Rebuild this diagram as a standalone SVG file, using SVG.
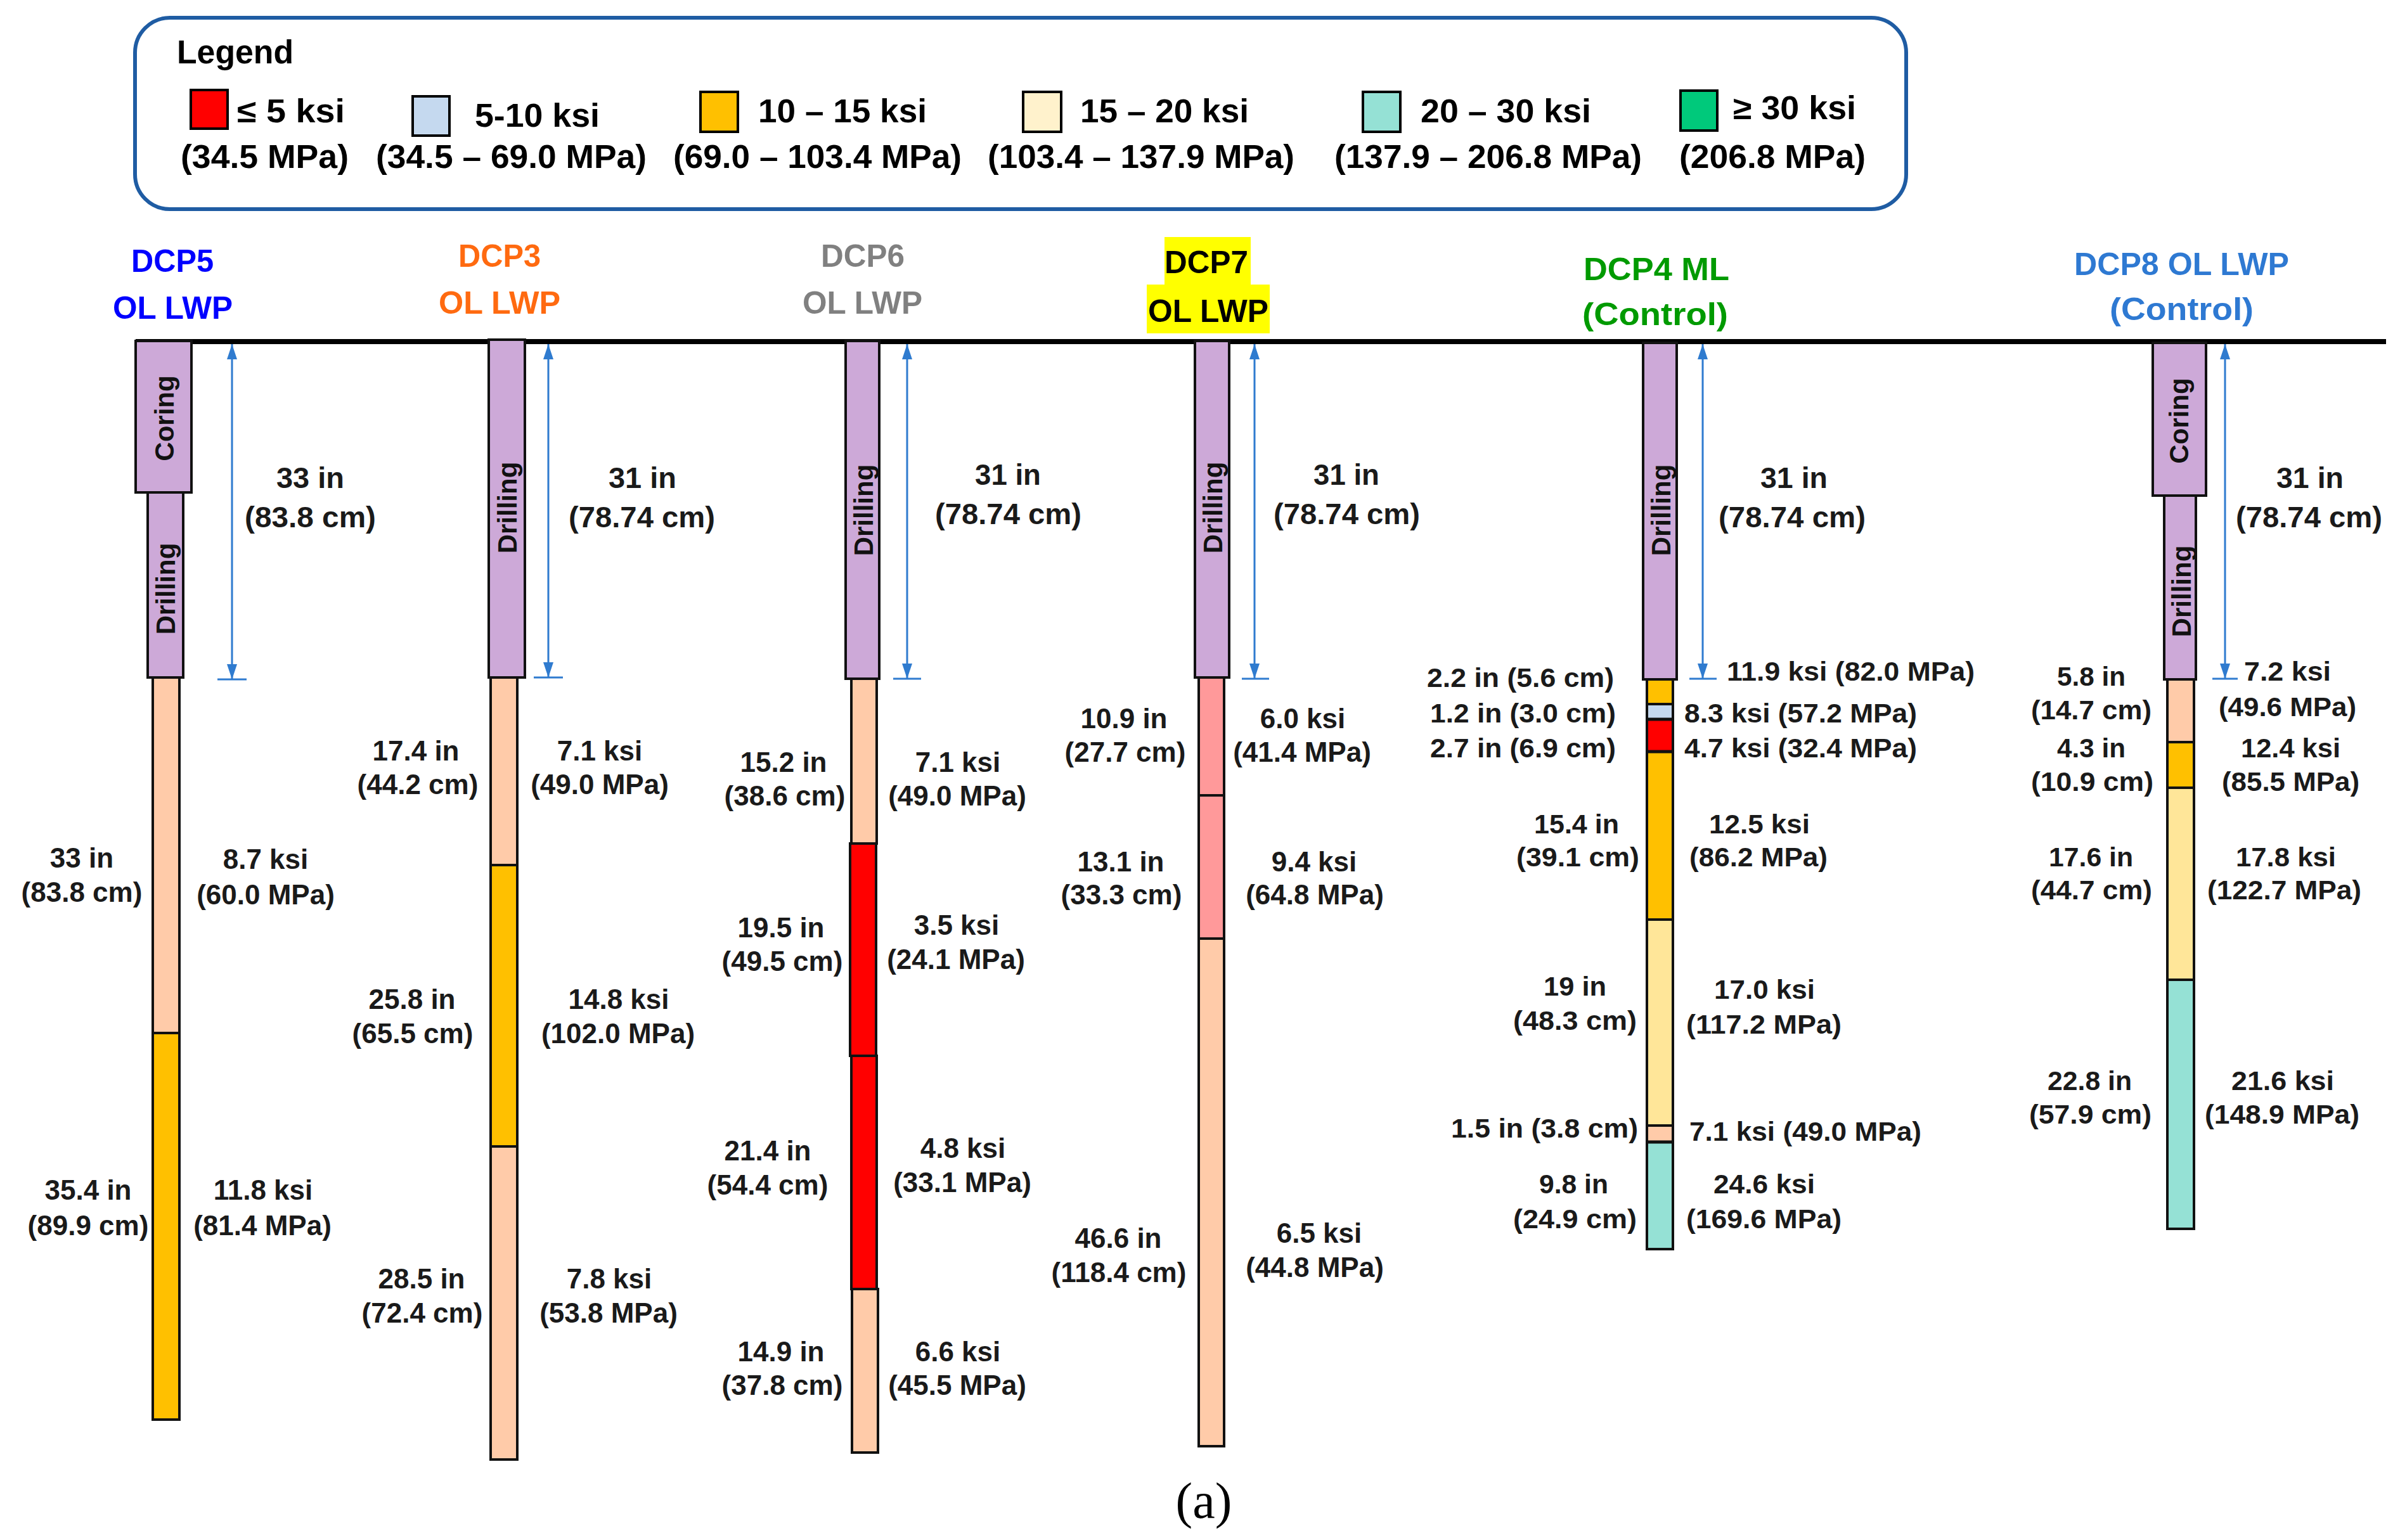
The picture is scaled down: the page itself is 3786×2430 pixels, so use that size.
<svg xmlns="http://www.w3.org/2000/svg" width="3786" height="2430" viewBox="0 0 3786 2430">
<style>
text{font-family:"Liberation Sans",Arial,sans-serif;font-weight:bold;fill:#1a1a1a}
.leg{font-size:51px;fill:#000}
.ttl{font-size:50px}
.dim{font-size:47px}
.lbl{font-size:42px}
.seg{font-size:44px;text-anchor:middle}
.rot{font-size:42px;text-anchor:middle;fill:#111}
.box{stroke:#000;stroke-width:4}
.col{stroke:#111;stroke-width:4}
.pu{fill:#CDA9D8}.pe{fill:#FFCBA9}.or{fill:#FFC000}.rd{fill:#FF0000}.pk{fill:#FF999A}
.ly{fill:#FFE699}.lb{fill:#C5D9EF}.tl{fill:#95E1D5}
.dl{stroke:#2F7BCF;stroke-width:3;fill:none}
.div{stroke:#111;stroke-width:5}
</style>
<defs>
<marker id="ah" viewBox="0 0 24 16" refX="24" refY="8" markerWidth="24" markerHeight="16" markerUnits="userSpaceOnUse" orient="auto-start-reverse">
<path d="M0,0 L24,8 L0,16 Z" fill="#2F7BCF"/>
</marker>
</defs>
<rect width="3786" height="2430" fill="#fff"/>

<g id="legend">
<rect x="213" y="28" width="2794" height="302" rx="55" ry="55" fill="#fff" stroke="#1F5CA3" stroke-width="6"/>
<text class="leg" x="279" y="100" font-size="54" textLength="184" lengthAdjust="spacingAndGlyphs">Legend</text>
<rect class="box" x="301" y="142" width="58" height="61" fill="#FF0000"/>
<text class="leg" x="374" y="193" textLength="170" lengthAdjust="spacingAndGlyphs">≤ 5 ksi</text>
<text class="leg" x="285" y="265" textLength="265" lengthAdjust="spacingAndGlyphs">(34.5 MPa)</text>
<rect class="box" x="651" y="152" width="58" height="62" fill="#C5D9EF"/>
<text class="leg" x="749" y="200" textLength="197" lengthAdjust="spacingAndGlyphs">5-10 ksi</text>
<text class="leg" x="593" y="265" textLength="427" lengthAdjust="spacingAndGlyphs">(34.5 – 69.0 MPa)</text>
<rect class="box" x="1105" y="145" width="59" height="63" fill="#FFC000"/>
<text class="leg" x="1196" y="193" textLength="266" lengthAdjust="spacingAndGlyphs">10 – 15 ksi</text>
<text class="leg" x="1062" y="265" textLength="455" lengthAdjust="spacingAndGlyphs">(69.0 – 103.4 MPa)</text>
<rect class="box" x="1614" y="145" width="60" height="63" fill="#FFF2CC"/>
<text class="leg" x="1704" y="193" textLength="266" lengthAdjust="spacingAndGlyphs">15 – 20 ksi</text>
<text class="leg" x="1558" y="265" textLength="484" lengthAdjust="spacingAndGlyphs">(103.4 – 137.9 MPa)</text>
<rect class="box" x="2150" y="145" width="59" height="63" fill="#95E1D5"/>
<text class="leg" x="2241" y="193" textLength="269" lengthAdjust="spacingAndGlyphs">20 – 30 ksi</text>
<text class="leg" x="2105" y="265" textLength="485" lengthAdjust="spacingAndGlyphs">(137.9 – 206.8 MPa)</text>
<rect class="box" x="2651" y="143" width="58" height="63" fill="#00C97B"/>
<text class="leg" x="2734" y="188" textLength="194" lengthAdjust="spacingAndGlyphs">≥ 30 ksi</text>
<text class="leg" x="2649" y="265" textLength="294" lengthAdjust="spacingAndGlyphs">(206.8 MPa)</text>
</g>

<g id="ground">
<line x1="214" y1="539" x2="3764" y2="539" stroke="#000" stroke-width="8"/>
</g>

<g id="dcp5">
<text class="ttl" x="207" y="429" style="fill:#0000FF" textLength="130" lengthAdjust="spacingAndGlyphs">DCP5</text>
<text class="ttl" x="178" y="503" style="fill:#0000FF" textLength="189" lengthAdjust="spacingAndGlyphs">OL LWP</text>
<rect class="col pu" x="214" y="538" width="88" height="239"/>
<rect class="col pu" x="233" y="777" width="56" height="292"/>
<rect class="col pe" x="241" y="1069" width="42" height="561"/>
<rect class="col or" x="241" y="1630" width="42" height="610"/>
<text class="rot" transform="translate(259,660) rotate(-90)" y="15">Coring</text>
<text class="rot" transform="translate(261,929) rotate(-90)" y="15">Drilling</text>
<text class="dim" x="436" y="770" textLength="107" lengthAdjust="spacingAndGlyphs">33 in</text>
<text class="dim" x="386" y="832" textLength="207" lengthAdjust="spacingAndGlyphs">(83.8 cm)</text>
<text class="seg" x="129" y="1369">33 in</text>
<text class="seg" x="129" y="1423">(83.8 cm)</text>
<text class="seg" x="419" y="1371">8.7 ksi</text>
<text class="seg" x="419" y="1427">(60.0 MPa)</text>
<text class="seg" x="139" y="1893">35.4 in</text>
<text class="seg" x="139" y="1949">(89.9 cm)</text>
<text class="seg" x="415" y="1893">11.8 ksi</text>
<text class="seg" x="414" y="1949">(81.4 MPa)</text>
</g>

<g id="dcp3">
<text class="ttl" x="723" y="421" style="fill:#FF6A10" textLength="130" lengthAdjust="spacingAndGlyphs">DCP3</text>
<text class="ttl" x="692" y="495" style="fill:#FF6A10" textLength="192" lengthAdjust="spacingAndGlyphs">OL LWP</text>
<rect class="col pu" x="771" y="536" width="57" height="533"/>
<rect class="col pe" x="774" y="1069" width="42" height="296"/>
<rect class="col or" x="774" y="1365" width="42" height="444"/>
<rect class="col pe" x="774" y="1809" width="42" height="494"/>
<text class="rot" transform="translate(800,801) rotate(-90)" y="15">Drilling</text>
<text class="dim" x="960" y="770" textLength="107" lengthAdjust="spacingAndGlyphs">31 in</text>
<text class="dim" x="897" y="832" textLength="231" lengthAdjust="spacingAndGlyphs">(78.74 cm)</text>
<text class="seg" x="656" y="1200">17.4 in</text>
<text class="seg" x="659" y="1253">(44.2 cm)</text>
<text class="seg" x="946" y="1200">7.1 ksi</text>
<text class="seg" x="946" y="1253">(49.0 MPa)</text>
<text class="seg" x="650" y="1592">25.8 in</text>
<text class="seg" x="651" y="1646">(65.5 cm)</text>
<text class="seg" x="976" y="1592">14.8 ksi</text>
<text class="seg" x="975" y="1646">(102.0 MPa)</text>
<text class="seg" x="665" y="2033">28.5 in</text>
<text class="seg" x="666" y="2087">(72.4 cm)</text>
<text class="seg" x="961" y="2033">7.8 ksi</text>
<text class="seg" x="960" y="2087">(53.8 MPa)</text>
</g>

<g id="dcp6">
<text class="ttl" x="1295" y="421" style="fill:#808080" textLength="132" lengthAdjust="spacingAndGlyphs">DCP6</text>
<text class="ttl" x="1266" y="495" style="fill:#808080" textLength="189" lengthAdjust="spacingAndGlyphs">OL LWP</text>
<rect class="col pu" x="1334" y="538" width="53" height="533"/>
<rect class="col pe" x="1343" y="1071" width="40" height="260"/>
<rect class="col rd" x="1341" y="1331" width="41" height="335"/>
<rect class="col rd" x="1343" y="1666" width="40" height="368"/>
<rect class="col pe" x="1344" y="2034" width="41" height="258"/>
<text class="rot" transform="translate(1362,805) rotate(-90)" y="15">Drilling</text>
<text class="dim" x="1538" y="765" textLength="104" lengthAdjust="spacingAndGlyphs">31 in</text>
<text class="dim" x="1475" y="827" textLength="231" lengthAdjust="spacingAndGlyphs">(78.74 cm)</text>
<text class="seg" x="1236" y="1218">15.2 in</text>
<text class="seg" x="1238" y="1271">(38.6 cm)</text>
<text class="seg" x="1511" y="1218">7.1 ksi</text>
<text class="seg" x="1510" y="1271">(49.0 MPa)</text>
<text class="seg" x="1232" y="1479">19.5 in</text>
<text class="seg" x="1234" y="1532">(49.5 cm)</text>
<text class="seg" x="1509" y="1475">3.5 ksi</text>
<text class="seg" x="1508" y="1529">(24.1 MPa)</text>
<text class="seg" x="1211" y="1831">21.4 in</text>
<text class="seg" x="1211" y="1885">(54.4 cm)</text>
<text class="seg" x="1519" y="1827">4.8 ksi</text>
<text class="seg" x="1518" y="1881">(33.1 MPa)</text>
<text class="seg" x="1232" y="2148">14.9 in</text>
<text class="seg" x="1234" y="2201">(37.8 cm)</text>
<text class="seg" x="1511" y="2148">6.6 ksi</text>
<text class="seg" x="1510" y="2201">(45.5 MPa)</text>
</g>

<g id="dcp7">
<rect x="1837" y="374" width="136" height="76" fill="#FFFF00"/>
<rect x="1809" y="449" width="194" height="77" fill="#FFFF00"/>
<text class="ttl" x="1837" y="431" style="fill:#000" textLength="132" lengthAdjust="spacingAndGlyphs">DCP7</text>
<text class="ttl" x="1811" y="508" style="fill:#000" textLength="190" lengthAdjust="spacingAndGlyphs">OL LWP</text>
<rect class="col pu" x="1885" y="538" width="54" height="531"/>
<rect class="col pk" x="1891" y="1069" width="40" height="186"/>
<rect class="col pk" x="1891" y="1255" width="40" height="226"/>
<rect class="col pe" x="1891" y="1481" width="40" height="801"/>
<text class="rot" transform="translate(1913,801) rotate(-90)" y="15">Drilling</text>
<text class="dim" x="2072" y="765" textLength="104" lengthAdjust="spacingAndGlyphs">31 in</text>
<text class="dim" x="2009" y="827" textLength="231" lengthAdjust="spacingAndGlyphs">(78.74 cm)</text>
<text class="seg" x="1773" y="1149">10.9 in</text>
<text class="seg" x="1775" y="1202">(27.7 cm)</text>
<text class="seg" x="2055" y="1149">6.0 ksi</text>
<text class="seg" x="2054" y="1202">(41.4 MPa)</text>
<text class="seg" x="1768" y="1375">13.1 in</text>
<text class="seg" x="1769" y="1427">(33.3 cm)</text>
<text class="seg" x="2073" y="1375">9.4 ksi</text>
<text class="seg" x="2074" y="1427">(64.8 MPa)</text>
<text class="seg" x="1764" y="1969">46.6 in</text>
<text class="seg" x="1765" y="2023">(118.4 cm)</text>
<text class="seg" x="2081" y="1961">6.5 ksi</text>
<text class="seg" x="2074" y="2015">(44.8 MPa)</text>
</g>

<g id="dcp4">
<text class="ttl" x="2498" y="442" style="fill:#009A00" textLength="230" lengthAdjust="spacingAndGlyphs">DCP4 ML</text>
<text class="ttl" x="2496" y="513" style="fill:#009A00" textLength="230" lengthAdjust="spacingAndGlyphs">(Control)</text>
<rect class="col pu" x="2592" y="541" width="53" height="531"/>
<rect class="col or" x="2598" y="1072" width="41" height="39"/>
<rect class="col lb" x="2598" y="1111" width="41" height="24"/>
<rect class="col rd" x="2598" y="1135" width="41" height="51"/>
<rect class="col or" x="2598" y="1186" width="41" height="265"/>
<rect class="col ly" x="2598" y="1451" width="41" height="325"/>
<rect class="col pe" x="2598" y="1776" width="41" height="26"/>
<rect class="col tl" x="2598" y="1802" width="41" height="169"/>
<line class="div" x1="2598" y1="1135" x2="2639" y2="1135"/>
<line class="div" x1="2598" y1="1186" x2="2639" y2="1186"/>
<line class="div" x1="2598" y1="1802" x2="2639" y2="1802"/>
<text class="rot" transform="translate(2620,805) rotate(-90)" y="15">Drilling</text>
<text class="dim" x="2777" y="770" textLength="106" lengthAdjust="spacingAndGlyphs">31 in</text>
<text class="dim" x="2711" y="832" textLength="232" lengthAdjust="spacingAndGlyphs">(78.74 cm)</text>
<text class="lbl" x="2724" y="1074" textLength="391" lengthAdjust="spacingAndGlyphs">11.9 ksi (82.0 MPa)</text>
<text class="lbl" x="2251" y="1084" textLength="295" lengthAdjust="spacingAndGlyphs">2.2 in (5.6 cm)</text>
<text class="lbl" x="2256" y="1140" textLength="293" lengthAdjust="spacingAndGlyphs">1.2 in (3.0 cm)</text>
<text class="lbl" x="2657" y="1140" textLength="367" lengthAdjust="spacingAndGlyphs">8.3 ksi (57.2 MPa)</text>
<text class="lbl" x="2256" y="1195" textLength="293" lengthAdjust="spacingAndGlyphs">2.7 in (6.9 cm)</text>
<text class="lbl" x="2657" y="1195" textLength="367" lengthAdjust="spacingAndGlyphs">4.7 ksi (32.4 MPa)</text>
<text class="lbl" x="2420" y="1315" textLength="134" lengthAdjust="spacingAndGlyphs">15.4 in</text>
<text class="lbl" x="2392" y="1367" textLength="194" lengthAdjust="spacingAndGlyphs">(39.1 cm)</text>
<text class="lbl" x="2696" y="1315" textLength="159" lengthAdjust="spacingAndGlyphs">12.5 ksi</text>
<text class="lbl" x="2665" y="1367" textLength="218" lengthAdjust="spacingAndGlyphs">(86.2 MPa)</text>
<text class="lbl" x="2435" y="1571" textLength="99" lengthAdjust="spacingAndGlyphs">19 in</text>
<text class="lbl" x="2387" y="1625" textLength="195" lengthAdjust="spacingAndGlyphs">(48.3 cm)</text>
<text class="lbl" x="2704" y="1576" textLength="159" lengthAdjust="spacingAndGlyphs">17.0 ksi</text>
<text class="lbl" x="2660" y="1631" textLength="245" lengthAdjust="spacingAndGlyphs">(117.2 MPa)</text>
<text class="lbl" x="2289" y="1795" textLength="295" lengthAdjust="spacingAndGlyphs">1.5 in (3.8 cm)</text>
<text class="lbl" x="2665" y="1800" textLength="366" lengthAdjust="spacingAndGlyphs">7.1 ksi (49.0 MPa)</text>
<text class="lbl" x="2428" y="1883" textLength="109" lengthAdjust="spacingAndGlyphs">9.8 in</text>
<text class="lbl" x="2387" y="1938" textLength="195" lengthAdjust="spacingAndGlyphs">(24.9 cm)</text>
<text class="lbl" x="2703" y="1883" textLength="160" lengthAdjust="spacingAndGlyphs">24.6 ksi</text>
<text class="lbl" x="2660" y="1938" textLength="245" lengthAdjust="spacingAndGlyphs">(169.6 MPa)</text>
</g>

<g id="dcp8">
<text class="ttl" x="3272" y="434" style="fill:#2E79D2" textLength="339" lengthAdjust="spacingAndGlyphs">DCP8 OL LWP</text>
<text class="ttl" x="3328" y="505" style="fill:#2E79D2" textLength="227" lengthAdjust="spacingAndGlyphs">(Control)</text>
<rect class="col pu" x="3396" y="541" width="84" height="241"/>
<rect class="col pu" x="3414" y="782" width="50" height="290"/>
<rect class="col pe" x="3419" y="1072" width="42" height="99"/>
<rect class="col or" x="3419" y="1171" width="42" height="72"/>
<rect class="col ly" x="3419" y="1243" width="42" height="303"/>
<rect class="col tl" x="3419" y="1546" width="42" height="393"/>
<text class="rot" transform="translate(3437,664) rotate(-90)" y="15">Coring</text>
<text class="rot" transform="translate(3441,933) rotate(-90)" y="15">Drilling</text>
<text class="dim" x="3591" y="770" textLength="106" lengthAdjust="spacingAndGlyphs">31 in</text>
<text class="dim" x="3527" y="832" textLength="231" lengthAdjust="spacingAndGlyphs">(78.74 cm)</text>
<text class="lbl" x="3540" y="1074" textLength="137" lengthAdjust="spacingAndGlyphs">7.2 ksi</text>
<text class="lbl" x="3500" y="1130" textLength="217" lengthAdjust="spacingAndGlyphs">(49.6 MPa)</text>
<text class="lbl" x="3245" y="1082" textLength="108" lengthAdjust="spacingAndGlyphs">5.8 in</text>
<text class="lbl" x="3204" y="1135" textLength="190" lengthAdjust="spacingAndGlyphs">(14.7 cm)</text>
<text class="lbl" x="3245" y="1195" textLength="108" lengthAdjust="spacingAndGlyphs">4.3 in</text>
<text class="lbl" x="3204" y="1248" textLength="193" lengthAdjust="spacingAndGlyphs">(10.9 cm)</text>
<text class="lbl" x="3535" y="1195" textLength="157" lengthAdjust="spacingAndGlyphs">12.4 ksi</text>
<text class="lbl" x="3505" y="1248" textLength="217" lengthAdjust="spacingAndGlyphs">(85.5 MPa)</text>
<text class="lbl" x="3232" y="1367" textLength="133" lengthAdjust="spacingAndGlyphs">17.6 in</text>
<text class="lbl" x="3204" y="1419" textLength="191" lengthAdjust="spacingAndGlyphs">(44.7 cm)</text>
<text class="lbl" x="3527" y="1367" textLength="158" lengthAdjust="spacingAndGlyphs">17.8 ksi</text>
<text class="lbl" x="3482" y="1419" textLength="243" lengthAdjust="spacingAndGlyphs">(122.7 MPa)</text>
<text class="lbl" x="3230" y="1720" textLength="133" lengthAdjust="spacingAndGlyphs">22.8 in</text>
<text class="lbl" x="3201" y="1773" textLength="193" lengthAdjust="spacingAndGlyphs">(57.9 cm)</text>
<text class="lbl" x="3520" y="1720" textLength="162" lengthAdjust="spacingAndGlyphs">21.6 ksi</text>
<text class="lbl" x="3478" y="1773" textLength="244" lengthAdjust="spacingAndGlyphs">(148.9 MPa)</text>
</g>

<g id="connectors">
<line class="dl" x1="366" y1="543" x2="366" y2="1072" marker-start="url(#ah)" marker-end="url(#ah)"/>
<line class="dl" x1="343" y1="1072" x2="389" y2="1072"/>
<line class="dl" x1="865" y1="543" x2="865" y2="1069" marker-start="url(#ah)" marker-end="url(#ah)"/>
<line class="dl" x1="842" y1="1069" x2="888" y2="1069"/>
<line class="dl" x1="1431" y1="543" x2="1431" y2="1071" marker-start="url(#ah)" marker-end="url(#ah)"/>
<line class="dl" x1="1409" y1="1071" x2="1453" y2="1071"/>
<line class="dl" x1="1979" y1="543" x2="1979" y2="1071" marker-start="url(#ah)" marker-end="url(#ah)"/>
<line class="dl" x1="1959" y1="1071" x2="2002" y2="1071"/>
<line class="dl" x1="2686" y1="543" x2="2686" y2="1071" marker-start="url(#ah)" marker-end="url(#ah)"/>
<line class="dl" x1="2665" y1="1071" x2="2708" y2="1071"/>
<line class="dl" x1="3510" y1="543" x2="3510" y2="1071" marker-start="url(#ah)" marker-end="url(#ah)"/>
<line class="dl" x1="3490" y1="1071" x2="3530" y2="1071"/>
</g>

<g id="caption">
<text x="1899" y="2395" text-anchor="middle" style="font-family:'Liberation Serif','Times New Roman',serif;font-weight:normal;font-size:80px;fill:#000">(a)</text>
</g>
</svg>
